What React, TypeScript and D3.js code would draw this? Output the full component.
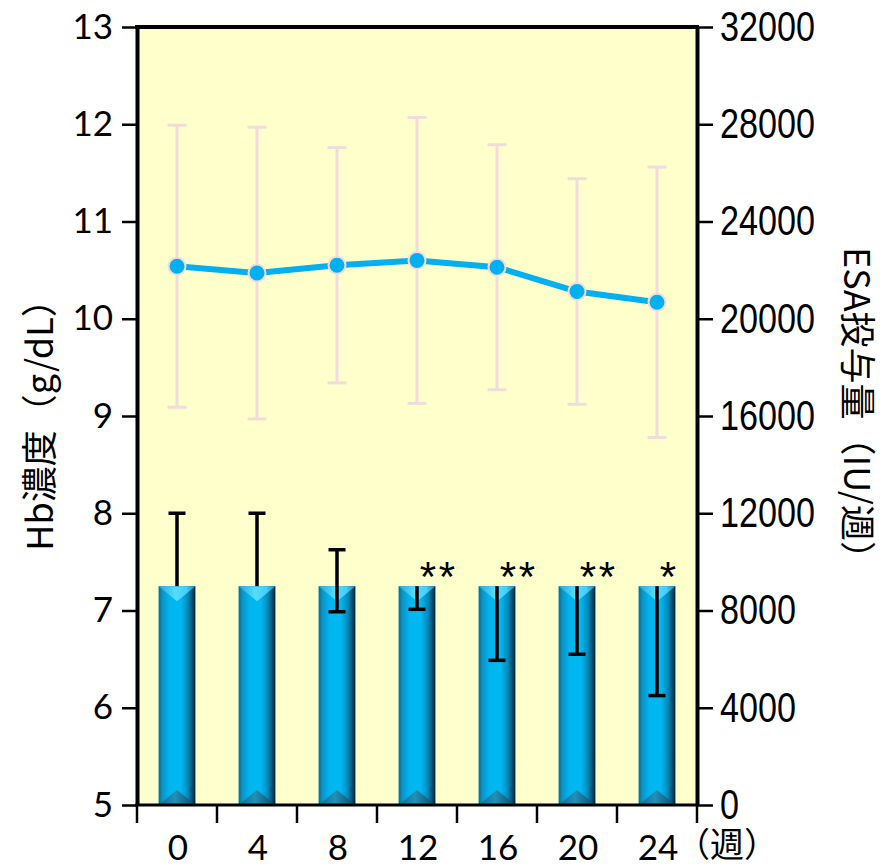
import React, { useEffect, useRef } from 'react';
import * as d3 from 'd3';

// 週
const weeks = ['0', '4', '8', '12', '16', '20', '24'];

// Hb濃度 (g/dL) 平均と SD
const hbMean = [10.54, 10.47, 10.55, 10.6, 10.53, 10.28, 10.17];
const hbSd = [1.45, 1.5, 1.21, 1.47, 1.26, 1.16, 1.39];

// ESA投与量 (IU/週)
const esaValues = [9000, 9000, 9000, 9000, 9000, 9000, 9000];
const esaHigh = [12000, 12000, 10500, 9000, 9000, 9000, 9000];
const esaLow = [9000, 9000, 7950, 8050, 5950, 6200, 4500];

// 有意差マーク
const sigMarks = ['', '', '', '**', '**', '**', '*'];

const hbTicks = [5, 6, 7, 8, 9, 10, 11, 12, 13];
const esaTicks = [0, 4000, 8000, 12000, 16000, 20000, 24000, 28000, 32000];

const W = 888;
const H = 866;

const App = () => {
  const svgRef = useRef(null);

  useEffect(() => {
    const svg = d3.select(svgRef.current);
    svg.selectAll('*').remove();

    const left = 137, right = 697, top = 27, bottom = 805;

    const x = d3.scaleBand().domain(weeks).range([left, right]).paddingInner(0.54).paddingOuter(0.27);
    const yL = d3.scaleLinear().domain([5, 13]).range([bottom, top]);
    const yR = d3.scaleLinear().domain([0, 32000]).range([bottom, top]);
    const cx = (i) => x(weeks[i]) + x.bandwidth() / 2;

    const defs = svg.append('defs');
    const body = defs.append('linearGradient').attr('id', 'barBody').attr('x1', 0).attr('x2', 1).attr('y1', 0).attr('y2', 0);
    [
      [0, '#0b6a8e'], [0.1, '#0a93c6'], [0.3, '#00b6f0'], [0.6, '#00b8f2'],
      [0.8, '#0089b8'], [0.92, '#004d6b'], [1, '#00212f'],
    ].forEach(([o, c]) => body.append('stop').attr('offset', o).attr('stop-color', c));
    const topG = defs.append('linearGradient').attr('id', 'barTop').attr('x1', 0).attr('x2', 1);
    [[0, '#22a8da'], [0.45, '#55dcff'], [0.75, '#44d0fa'], [1, '#1a88b2']]
      .forEach(([o, c]) => topG.append('stop').attr('offset', o).attr('stop-color', c));
    const botG = defs.append('linearGradient').attr('id', 'barBot').attr('x1', 0).attr('x2', 1);
    [[0, '#12688a'], [0.45, '#2390b8'], [1, '#0a4660']]
      .forEach(([o, c]) => botG.append('stop').attr('offset', o).attr('stop-color', c));

    // 背景
    svg.append('rect').attr('x', left + 2).attr('y', top + 2).attr('width', right - left - 4).attr('height', bottom - top - 2).attr('fill', '#ffffcc');

    // 棒 (ESA)
    const bw = x.bandwidth();
    const bev = 15;
    const bars = svg.append('g');
    esaValues.forEach((v, i) => {
      const x0 = x(weeks[i]);
      const y0 = yR(v);
      bars.append('rect').attr('x', x0).attr('y', y0).attr('width', bw).attr('height', bottom - y0).attr('fill', 'url(#barBody)');
      bars.append('path').attr('d', `M${x0},${y0}L${x0 + bw},${y0}L${x0 + bw / 2},${y0 + bev}Z`).attr('fill', 'url(#barTop)');
      bars.append('path').attr('d', `M${x0},${bottom}L${x0 + bw},${bottom}L${x0 + bw / 2},${bottom - bev}Z`).attr('fill', 'url(#barBot)');
    });

    // 棒のエラーバー
    const eb = svg.append('g').attr('stroke', '#000').attr('stroke-width', 3.5);
    esaValues.forEach((v, i) => {
      const c = cx(i);
      eb.append('line').attr('x1', c).attr('x2', c).attr('y1', yR(esaHigh[i])).attr('y2', yR(esaLow[i]));
      if (esaHigh[i] > v) eb.append('line').attr('x1', c - 8.5).attr('x2', c + 8.5).attr('y1', yR(esaHigh[i])).attr('y2', yR(esaHigh[i]));
      if (esaLow[i] < v) eb.append('line').attr('x1', c - 8.5).attr('x2', c + 8.5).attr('y1', yR(esaLow[i])).attr('y2', yR(esaLow[i]));
    });

    // 有意差
    sigMarks.forEach((s, i) => {
      s.split('').forEach((ch, k) => {
        svg.append('text').attr('x', cx(i) + 11 + k * 19).attr('y', 591)
          .attr('text-anchor', 'middle').attr('font-family', 'Liberation Sans, Arial, sans-serif').attr('font-size', 42)
          .text(ch);
      });
    });

    // Hb のエラーバー
    const hb = svg.append('g').attr('stroke', '#f2dcdb').attr('stroke-width', 3);
    hbMean.forEach((m, i) => {
      const c = cx(i);
      const hi = yL(m + hbSd[i]);
      const lo = yL(m - hbSd[i]);
      hb.append('line').attr('x1', c).attr('x2', c).attr('y1', hi).attr('y2', lo);
      hb.append('line').attr('x1', c - 9.5).attr('x2', c + 9.5).attr('y1', hi).attr('y2', hi);
      hb.append('line').attr('x1', c - 9.5).attr('x2', c + 9.5).attr('y1', lo).attr('y2', lo);
    });

    // Hb ライン
    const line = d3.line().x((d, i) => cx(i)).y((d) => yL(d));
    svg.append('path').datum(hbMean).attr('d', line).attr('fill', 'none').attr('stroke', '#00b0f0').attr('stroke-width', 6);
    svg.append('g').selectAll('circle').data(hbMean).enter().append('circle')
      .attr('cx', (d, i) => cx(i)).attr('cy', (d) => yL(d)).attr('r', 8.5)
      .attr('fill', '#00b0f0').attr('stroke', '#f2dcdb').attr('stroke-width', 2);

    // 軸
    const leftAxis = svg.append('g').attr('transform', `translate(${left},0)`)
      .call(d3.axisLeft(yL).tickValues(hbTicks).tickSize(15).tickSizeOuter(0).tickPadding(9));
    leftAxis.select('.domain').attr('stroke-width', 4);
    leftAxis.selectAll('.tick line').attr('stroke-width', 2.5);
    leftAxis.selectAll('text').attr('font-family', 'Lato, sans-serif').attr('font-size', 35).attr('fill', '#000');

    const rightAxis = svg.append('g').attr('transform', `translate(${right},0)`)
      .call(d3.axisRight(yR).tickValues(esaTicks).tickFormat(d3.format('d')).tickSize(16).tickSizeOuter(0).tickPadding(7));
    rightAxis.select('.domain').attr('stroke-width', 4);
    rightAxis.selectAll('.tick line').attr('stroke-width', 2.5);
    rightAxis.selectAll('text').attr('font-family', "'Liberation Sans', Arial, sans-serif")
      .attr('font-size', 42).attr('fill', '#000')
      .attr('textLength', (d) => String(d).length * 19).attr('lengthAdjust', 'spacingAndGlyphs');

    // 上枠
    svg.append('line').attr('x1', left - 2).attr('x2', right + 2).attr('y1', top).attr('y2', top).attr('stroke', '#000').attr('stroke-width', 4);

    // 下軸
    svg.append('line').attr('x1', left - 2).attr('x2', right + 2).attr('y1', bottom).attr('y2', bottom).attr('stroke', '#000').attr('stroke-width', 3);
    d3.range(weeks.length + 1).forEach((k) => {
      const tx = left + k * x.step();
      svg.append('line').attr('x1', tx).attr('x2', tx).attr('y1', bottom).attr('y2', bottom + 18).attr('stroke', '#000').attr('stroke-width', 2.5);
    });
    svg.append('g').selectAll('text').data(weeks).enter().append('text')
      .attr('x', (d, i) => cx(i) + 1).attr('y', 860).attr('text-anchor', 'middle')
      .attr('font-family', 'Lato, sans-serif').attr('font-size', 35).text((d) => d);
    svg.append('text').attr('x', 676).attr('y', 857).attr('font-family', "'Noto Sans CJK JP', sans-serif").attr('font-size', 34).text('（週）');

    // 軸タイトル
    svg.append('text').attr('transform', `translate(37,${(top + bottom) / 2}) rotate(-90)`)
      .attr('text-anchor', 'middle').attr('dominant-baseline', 'central')
      .attr('font-family', "'Noto Sans CJK JP', sans-serif").attr('font-size', 36).text('Hb濃度（g/dL）');
    svg.append('text').attr('transform', `translate(860,${(top + bottom) / 2 - 4}) rotate(90)`)
      .attr('text-anchor', 'middle').attr('dominant-baseline', 'central')
      .attr('font-family', "'Noto Sans CJK JP', sans-serif").attr('font-size', 36).text('ESA投与量（IU/週）');
  }, []);

  return (
    <svg ref={svgRef} width={W} height={H} style={{ position: 'absolute', left: 0, top: 0, background: '#fff' }} aria-label="Hb濃度とESA投与量の推移" />
  );
};

export default App;
